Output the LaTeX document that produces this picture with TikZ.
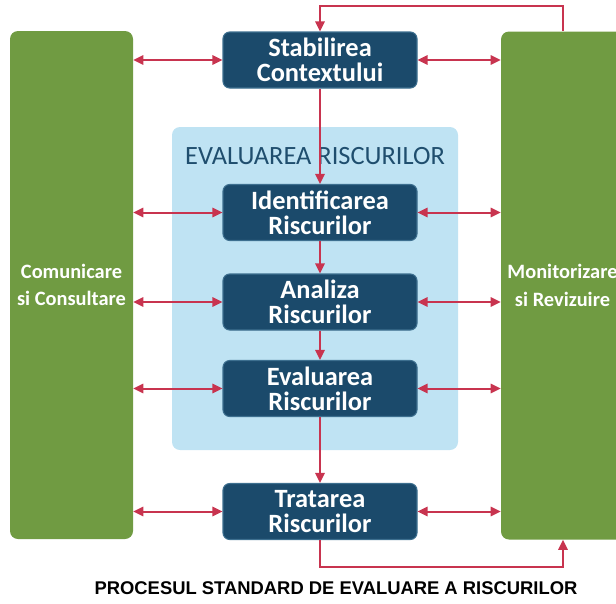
\documentclass[tikz,border=0pt]{standalone}
\usepackage{fontspec}
\setmainfont{Carlito}
\newfontfamily\capfont{Liberation Sans}
\usepackage{tikz}
\usetikzlibrary{arrows.meta, positioning, calc}
\definecolor{sidegreen}{HTML}{709B42}
\definecolor{stepblue}{HTML}{1B4A6B}
\definecolor{stepedge}{HTML}{3D6F8F}
\definecolor{zoneblue}{HTML}{BFE3F3}
\definecolor{headblue}{HTML}{1F4E6E}
\definecolor{linkred}{HTML}{C8344F}
\tikzset{side/.style={rectangle, rounded corners=6pt, fill=sidegreen, text=white, align=center, minimum width=92.25pt, minimum height=381pt, inner sep=0pt, font=\bfseries\fontsize{15.3}{20.5}\selectfont},
    stepbox/.style={rectangle, rounded corners=5pt, fill=stepblue, draw=stepedge, line width=0.8pt, text=white, align=center, minimum width=145.5pt, minimum height=42pt, inner sep=0pt, font=\bfseries\fontsize{19.8}{19}\selectfont},
    zone/.style={rectangle, rounded corners=6pt, fill=zoneblue, minimum width=214.5pt, minimum height=242.25pt, inner sep=0pt},
    flow/.style={draw=linkred, line width=1.5pt, -{Triangle[length=7.5pt, width=7pt]}},
    both/.style={draw=linkred, line width=1.5pt, {Triangle[length=7.5pt, width=7pt]}-{Triangle[length=7.5pt, width=7pt]}},
}

\begin{document}
\begin{tikzpicture}[x=0.75pt, y=-0.75pt]
            \useasboundingbox (0,0) rectangle (616,603);
            \clip (0,0) rectangle (616,603);
            \node[side] (comm) at (71.5,285) {Comunicare\\si Consultare};
            \node[side] (monit) at (562.5,285.5) {Monitorizare\\si Revizuire};
            \node[zone] (evalzone) at (315,288.5) {};
            \node[text=headblue, font=\fontsize{19.8}{21}\selectfont] (evalhead) at (315,156) {EVALUAREA RISCURILOR};
            \node[stepbox] (stab) at (320,60) {Stabilirea\\Contextului};
            \node[stepbox] (ident) at (320,212.5) {Identificarea\\Riscurilor};
            \node[stepbox] (anal) at (320,302) {Analiza\\Riscurilor};
            \node[stepbox] (evalr) at (320,388.5) {Evaluarea\\Riscurilor};
            \node[stepbox] (trat) at (320,511.5) {Tratarea\\Riscurilor};
            \node[font=\capfont\bfseries\fontsize{13.8}{16}\selectfont] (caption) at (336,588) {PROCESUL STANDARD DE EVALUARE A RISCURILOR};
            \coordinate (loopA) at (563,6);
            \coordinate (loopB) at (563,567);
            \draw[flow](stab)--(ident);
            \draw[flow](ident)--(anal);
            \draw[flow](anal)--(evalr);
            \draw[flow](evalr)--(trat);
            \draw[flow](loopA |- monit.north)--(loopA)-|(stab.north);
            \draw[flow](trat.south)|-(loopB)--(loopB |- monit.south);
            \draw[both](comm.east |- stab)--(stab.west);
            \draw[both](comm.east |- ident)--(ident.west);
            \draw[both](comm.east |- anal)--(anal.west);
            \draw[both](comm.east |- evalr)--(evalr.west);
            \draw[both](comm.east |- trat)--(trat.west);
            \draw[both](stab.east)--(monit.west |- stab);
            \draw[both](ident.east)--(monit.west |- ident);
            \draw[both](anal.east)--(monit.west |- anal);
            \draw[both](evalr.east)--(monit.west |- evalr);
            \draw[both](trat.east)--(monit.west |- trat);
        \end{tikzpicture}
\end{document}
